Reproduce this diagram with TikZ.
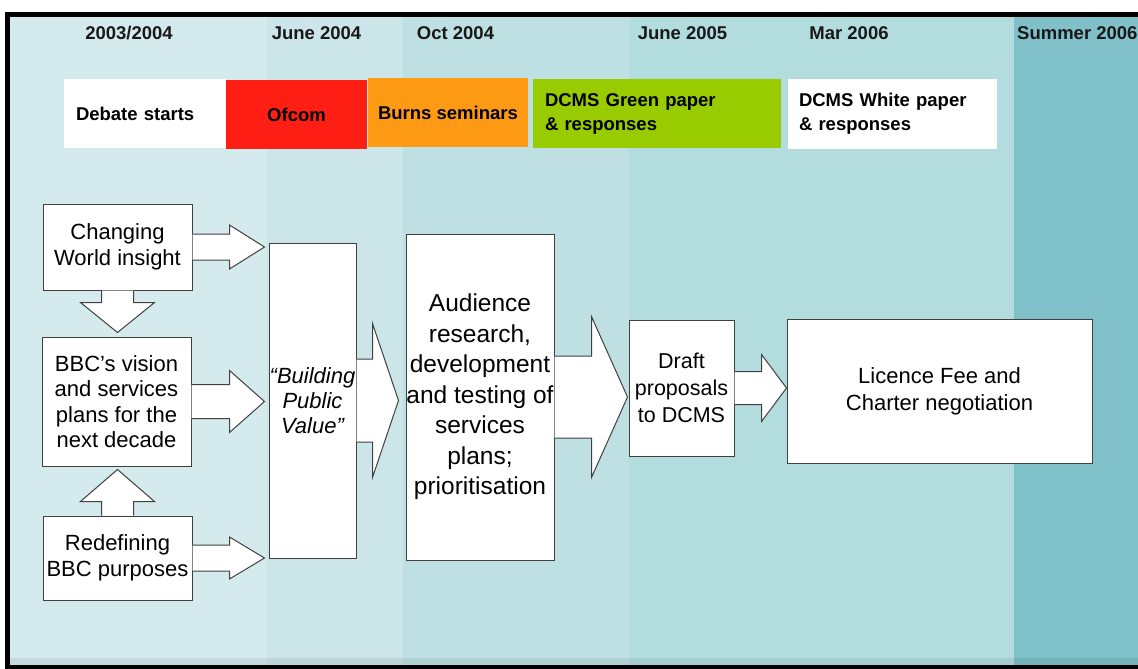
\documentclass[tikz,border=0pt]{standalone}
\usepackage{fontspec}
\setmainfont{Liberation Sans}
\usetikzlibrary{calc}

\definecolor{colA}{HTML}{D5EAED}
\definecolor{colB}{HTML}{CBE5E8}
\definecolor{colC}{HTML}{BEE0E2}
\definecolor{colD}{HTML}{B3DCDF}
\definecolor{colE}{HTML}{80C0C8}
\definecolor{boxgray}{HTML}{404040}
\definecolor{ofred}{HTML}{FF1E14}
\definecolor{burnsorange}{HTML}{FF9A14}
\definecolor{greenpaper}{HTML}{99CC00}

\begin{document}
\begin{tikzpicture}[x=1pt, y=-1pt,
	box/.style={draw=boxgray, line width=1pt, fill=white, inner sep=0pt, align=center, font=\fontsize{22}{25.5}\selectfont},
	barrow/.style={draw=boxgray, line width=1pt, fill=white, line join=miter},
	tline/.style={inner sep=0pt, minimum height=69pt, align=center, font=\bfseries\fontsize{18.5}{24}\selectfont},
	year/.style={inner sep=0pt, font=\bfseries\fontsize{18.5}{22}\selectfont, text=black!90}]
	   \useasboundingbox (0,0) rectangle (1138,669);
	   \fill[white] (0,0) rectangle (1138,669);

        % columns
        \foreach \xa/\xb/\col in {8/267/colA,267/403/colB,403/629/colC,629/1014/colD,1014/1140/colE}
        \fill[\col] (\xa,14) rectangle (\xb,667);
        % bottom strip
        \fill[black, opacity=0.07] (8,658) rectangle (1140,665);
        % frame
        \draw[line width=5pt] (1142,14.5) -- (7.5,14.5) -- (7.5,667) -- (1142,667);

        % dates
        \node[year] (d1) at (129,33) {2003/2004};
        \node[year] (d2) at (316.5,33) {June 2004};
        \node[year] (d3) at (455.5,33) {Oct 2004};
        \node[year] (d4) at (682.5,33) {June 2005};
        \node[year] (d5) at (849,33) {Mar 2006};
        \node[year, anchor=west] (d6) at (1017,33) {Summer 2006};

        % timeline
        \node[tline, fill=white, text width=138pt, inner xsep=12pt, align=left] (deb) at (145,113.5) {Debate starts};
        \node[tline, fill=ofred, minimum width=141pt] (ofc) at (296.5,114.5) {Ofcom};
        \node[tline, fill=burnsorange, minimum width=160pt] (brn) at (448,112.5) {Burns seminars};
        \node[tline, fill=greenpaper, text width=224pt, inner xsep=12pt, align=left] (grn) at (657,113.5) {DCMS Green paper\\\& responses};
        \node[tline, fill=white, text width=187pt, inner xsep=11pt, align=left] (wht) at (892.5,114) {DCMS White paper\\\& responses};

        % boxes
        \node[box, minimum width=149pt, minimum height=86pt] (chg) at (117.5,247) {Changing\\World insight};
        \node[box, minimum width=149pt, minimum height=129pt] (bbc) at (116.5,401.5) {BBC’s vision\\and services\\plans for the\\next decade};
        \node[box, minimum width=149pt, minimum height=84pt] (red) at (117.5,558) {Redefining\\BBC purposes};
        \node[box, minimum width=87pt, minimum height=315pt, font=\itshape\fontsize{22}{25}\selectfont] (bpv) at (312.5,400.5) {“Building\\Public\\Value”};
        \node[box, minimum width=148pt, minimum height=326pt, font=\fontsize{24.5}{30.5}\selectfont] (aud) at (480,397) {Audience\\research,\\development\\and testing of\\services\\plans;\\prioritisation};
        \node[box, minimum width=105pt, minimum height=136pt, font=\fontsize{21.5}{27}\selectfont] (drf) at (681.5,388) {Draft\\proposals\\to DCMS};
        \node[box, minimum width=305pt, minimum height=144pt, font=\fontsize{22}{27}\selectfont] (lic) at (939.5,391) {Licence Fee and\\Charter negotiation};

        % changing world -> building public value
        \draw[barrow] ($(chg.east)+(0,-13)$) -- ++(37,0) -- ++(0,-9) -- ($(chg.east -| bpv.west)+(-4,0)$) -- ($(chg.east)+(37,22)$) -- ++(0,-9) -- ($(chg.east)+(0,13)$);
        % vision -> building public value
        \draw[barrow] ($(bbc.east)+(0,-17)$) -- ++(38,0) -- ++(0,-14) -- ($(bbc.east -| bpv.west)+(-4,0)$) -- ($(bbc.east)+(38,31)$) -- ++(0,-14) -- ($(bbc.east)+(0,17)$);
        % purposes -> building public value
        \draw[barrow] ($(red.east)+(0,-13)$) -- ++(37,0) -- ++(0,-8) -- ($(red.east -| bpv.west)+(-4,0)$) -- ($(red.east)+(37,21)$) -- ++(0,-8) -- ($(red.east)+(0,13)$);
        % changing world -> vision
        \draw[barrow] ($(chg.south)+(-16,0)$) -- ++(0,12) -- ++(-21,0) -- ($(chg.south |- bbc.north)+(0,-4)$) -- ($(chg.south)+(37,12)$) -- ++(-21,0) -- ($(chg.south)+(16,0)$);
        % purposes -> vision
        \draw[barrow] ($(red.north)+(-16,0)$) -- ++(0,-14) -- ++(-21,0) -- ($(red.north |- bbc.south)+(0,3)$) -- ($(red.north)+(37,-14)$) -- ++(-21,0) -- ($(red.north)+(16,0)$);
        % building public value -> audience research
        \draw[barrow] ($(bpv.east)+(0,-41.5)$) -- ++(16,0) -- ++(0,-35.5) -- ($(bpv.east -| aud.west)+(-7,0)$) -- ($(bpv.east)+(16,77)$) -- ++(0,-35.5) -- ($(bpv.east)+(0,41.5)$);
        % audience research -> draft
        \draw[barrow] ($(aud.east)+(0,-41)$) -- ++(37,0) -- ++(0,-39.5) -- ($(aud.east -| drf.west)+(-1,0)$) -- ($(aud.east)+(37,80.5)$) -- ++(0,-39.5) -- ($(aud.east)+(0,41)$);
        % draft -> licence fee
        \draw[barrow] ($(drf.east)+(0,-16.5)$) -- ++(27,0) -- ++(0,-17) -- (drf.east -| lic.west) -- ($(drf.east)+(27,33.5)$) -- ++(0,-17) -- ($(drf.east)+(0,16.5)$);
    \end{tikzpicture}
\end{document}
